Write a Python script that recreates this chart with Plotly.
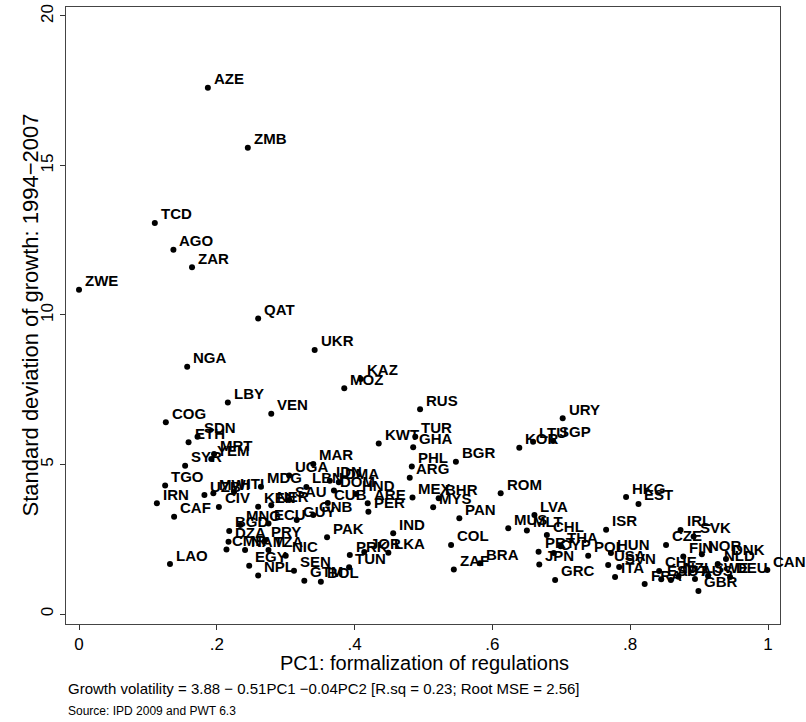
import plotly.graph_objects as go

codes = ["ZWE","TCD","AGO","ZAR","AZE","ZMB","QAT","UKR","NGA","MOZ","KAZ","LBY","VEN","RUS","URY",
         "COG","SDN","ETH","MRT","YEM","SYR","KWT","TUR","GHA","PHL","ARG","BGR","KOR","LTU","SGP",
         "MAR","UGA","TGO","IRN","CAF","LAO","UZB","MWI","HTI","CIV","MDG","KEN","NER","SAU","LBN",
         "IDN","DMA","DOM","HND","CUB","ARE","PER","GUY","GNB","MNG","ECU","BGD","DZA","PRY","CMR",
         "NAM","TZA","NIC","EGY","NPL","SEN","GTM","BOL","PAK","TUN","PRK","JOR","LKA","IND","MEX",
         "BHR","MYS","PAN","ROM","COL","ZAF","BRA","LVA","MUS","MLT","CHL","PRT","CYP","THA","JPN",
         "GRC","HKG","EST","ISR","POL","HUN","USA","SVN","ITA","FRA","IRL","SVK","CZE","FIN","NOR",
         "DNK","NLD","CHE","ESP","AUT","NZL","AUS","SWE","DEU","GBR","CAN"]

pc1 = [0.000,0.110,0.137,0.164,0.187,0.245,0.260,0.342,0.157,0.385,0.409,0.216,0.279,0.495,0.702,
       0.126,0.172,0.159,0.196,0.192,0.154,0.435,0.488,0.485,0.483,0.480,0.547,0.639,0.659,0.688,
       0.340,0.305,0.125,0.113,0.138,0.132,0.182,0.195,0.225,0.203,0.264,0.260,0.279,0.305,0.330,
       0.364,0.377,0.370,0.402,0.361,0.419,0.420,0.316,0.340,0.234,0.275,0.218,0.217,0.270,0.214,
       0.241,0.275,0.300,0.247,0.260,0.312,0.327,0.351,0.360,0.392,0.393,0.414,0.449,0.456,0.484,
       0.522,0.514,0.552,0.612,0.540,0.544,0.582,0.661,0.623,0.650,0.679,0.667,0.689,0.699,0.668,
       0.691,0.794,0.812,0.765,0.739,0.772,0.768,0.784,0.778,0.821,0.873,0.892,0.852,0.877,0.904,
       0.939,0.927,0.842,0.845,0.859,0.870,0.894,0.913,0.945,0.899,0.999]

sdg = [10.84,13.08,12.18,11.60,17.60,15.59,9.88,8.83,8.27,7.55,7.86,7.07,6.70,6.85,6.55,
       6.41,5.93,5.74,5.35,5.18,4.96,5.70,5.93,5.58,4.93,4.56,5.09,5.56,5.76,5.79,
       5.02,4.63,4.30,3.70,3.25,1.67,3.98,4.04,4.08,3.58,4.26,3.59,3.64,3.81,4.25,
       4.46,4.41,4.13,4.01,3.71,3.70,3.42,3.14,3.31,2.98,3.03,2.78,2.42,2.47,2.16,
       2.14,2.14,1.95,1.61,1.29,1.45,1.11,1.08,2.57,1.56,1.97,2.07,2.05,2.70,3.90,
       3.87,3.57,3.20,4.04,2.31,1.49,1.70,3.31,2.87,2.79,2.64,2.08,2.04,2.27,1.66,
       1.14,3.91,3.68,2.82,1.95,2.04,1.64,1.57,1.24,1.00,2.81,2.59,2.31,1.92,2.00,
       1.84,1.67,1.44,1.16,1.14,1.25,1.17,1.27,1.24,0.77,1.47]

xticks = [0, 0.2, 0.4, 0.6, 0.8, 1]
xticklabels = ["0", ".2", ".4", ".6", ".8", "1"]
yticks = [0, 5, 10, 15, 20]

FONT = "Liberation Sans, Arial, Helvetica, sans-serif"

fig = go.Figure()
fig.add_trace(go.Scatter(
    x=pc1, y=sdg, mode="markers", text=codes,
    marker=dict(color="black", size=6),
    cliponaxis=False, hoverinfo="text"))

label_annotations = [
    dict(x=xv, y=yv, xref="x", yref="y", text=c, showarrow=False,
         xanchor="left", yanchor="middle", xshift=4, yshift=9,
         font=dict(family=FONT, size=15, color="black", weight="bold"))
    for c, xv, yv in zip(codes, pc1, sdg)
]

fig.update_layout(
    width=806, height=722,
    margin=dict(l=66, r=26, t=7, b=98, autoexpand=False),
    paper_bgcolor="white", plot_bgcolor="white",
    showlegend=False,
    font=dict(family=FONT, color="black"),
    xaxis=dict(range=[-0.0189, 1.0174], tickvals=xticks, ticktext=xticklabels,
               ticks="outside", ticklen=5, tickcolor="#333", showline=True, mirror=True,
               linecolor="#444", linewidth=1, showgrid=False, zeroline=False, automargin=False,
               tickfont=dict(size=17, family=FONT)),
    yaxis=dict(range=[-0.334, 20.3], tickvals=yticks, tickangle=-90,
               ticks="outside", ticklen=5, tickcolor="#333", showline=True, mirror=True,
               linecolor="#444", linewidth=1, showgrid=False, zeroline=False, automargin=False,
               tickfont=dict(size=17, family=FONT)),
    annotations=label_annotations + [
        dict(text="PC1: formalization of regulations", xref="paper", yref="paper",
             x=0.502, y=-0.0632, xanchor="center", yanchor="middle", showarrow=False,
             font=dict(size=20, family=FONT)),
        dict(text="Standard deviation of growth: 1994\u22122007", xref="paper", yref="paper",
             x=-0.0504, y=0.5, xanchor="center", yanchor="middle", textangle=-90, showarrow=False,
             font=dict(size=22, family=FONT)),
        dict(text="Growth volatility = 3.88 \u2212 0.51PC1 \u22120.04PC2 [R.sq = 0.23; Root MSE = 2.56]",
             xref="paper", yref="paper", x=0.0, y=-0.105, xanchor="left", yanchor="middle",
             showarrow=False, font=dict(size=15, family=FONT)),
        dict(text="Source: IPD 2009 and PWT 6.3", xref="paper", yref="paper",
             x=0.0, y=-0.141, xanchor="left", yanchor="middle",
             showarrow=False, font=dict(size=12, family=FONT)),
    ])

fig.write_html("out.html", config={"displayModeBar": False},
               post_script="document.body.style.margin='0';document.body.style.padding='0';")
